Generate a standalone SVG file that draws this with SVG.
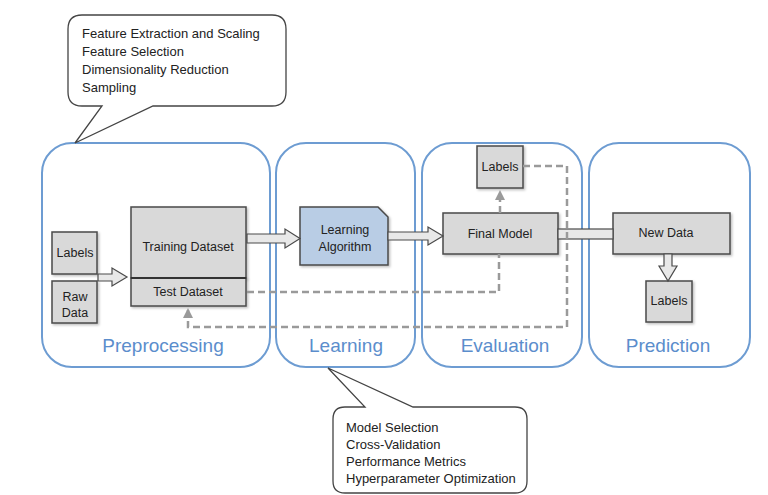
<svg xmlns="http://www.w3.org/2000/svg" width="768" height="495" viewBox="0 0 768 495">
<defs>
<style>
text{font-family:"Liberation Sans",Arial,sans-serif;fill:#222}
.stage{fill:#fff;stroke:#6d9cd2;stroke-width:2}
.stxt{font-size:19px;fill:#5b8dcc;text-anchor:middle}
.node{fill:#d9d9d9;stroke:#4a4a4a;stroke-width:1.5;filter:url(#sh)}
.ntxt{font-size:12.5px;text-anchor:middle}
.call{fill:#fff;stroke:#444;stroke-width:1.3}
.ctxt{font-size:13px}
.hollow{fill:#e8e8e8;stroke:#4a4a4a;stroke-width:1.2}
.dash{fill:none;stroke:#9a9a9a;stroke-width:2.5;stroke-dasharray:7,4}
</style>
<filter id="sh" x="-10%" y="-10%" width="130%" height="130%">
<feDropShadow dx="1.5" dy="1.5" stdDeviation="1" flood-color="#000" flood-opacity="0.25"/>
</filter>
<marker id="ga" viewBox="0 0 10 10" refX="9" refY="5" markerWidth="4" markerHeight="4" orient="auto" markerUnits="strokeWidth">
<path d="M0,0 L10,5 L0,10 Z" fill="#9a9a9a"/>
</marker>
</defs>

<g id="stages">
<g id="stage-preprocessing">
<rect class="stage" x="42" y="143" width="228" height="224" rx="30"/>
<text class="stxt" x="163" y="352">Preprocessing</text>
</g>
<g id="stage-learning">
<rect class="stage" x="276" y="143" width="139" height="224" rx="30"/>
<text class="stxt" x="346" y="352">Learning</text>
</g>
<g id="stage-evaluation">
<rect class="stage" x="422" y="143" width="160" height="224" rx="30"/>
<text class="stxt" x="505" y="352">Evaluation</text>
</g>
<g id="stage-prediction">
<rect class="stage" x="589" y="143" width="161" height="224" rx="30"/>
<text class="stxt" x="668" y="352">Prediction</text>
</g>
</g>

<g id="callout-preprocessing">
<path class="call" d="M82,15 H272 Q286,15 286,29 V92 Q286,106 272,106 H153 L75,143 L102,106 H82 Q68,106 68,92 V29 Q68,15 82,15 Z"/>
<text class="ctxt" x="82" y="38">Feature Extraction and Scaling</text>
<text class="ctxt" x="82" y="56">Feature Selection</text>
<text class="ctxt" x="82" y="74">Dimensionality Reduction</text>
<text class="ctxt" x="82" y="92">Sampling</text>
</g>

<g id="callout-learning">
<path class="call" d="M345,407 H365 L328,368 L413,407 H515 Q527,407 527,419 V481 Q527,493 515,493 H345 Q333,493 333,481 V419 Q333,407 345,407 Z"/>
<text class="ctxt" x="346" y="432">Model Selection</text>
<text class="ctxt" x="346" y="449">Cross-Validation</text>
<text class="ctxt" x="346" y="466">Performance Metrics</text>
<text class="ctxt" x="346" y="483">Hyperparameter Optimization</text>
</g>

<g id="node-labels-in">
<rect class="node" x="52" y="232" width="45" height="42"/>
<text class="ntxt" x="75" y="257">Labels</text>
</g>
<g id="node-raw-data">
<rect class="node" x="52" y="281" width="45" height="42"/>
<text class="ntxt" x="75" y="301">Raw</text>
<text class="ntxt" x="75" y="317">Data</text>
</g>
<g id="node-training-dataset">
<rect class="node" x="131" y="207" width="115" height="71"/>
<text class="ntxt" x="188" y="251">Training Dataset</text>
</g>
<g id="node-test-dataset">
<rect class="node" x="131" y="278" width="115" height="28"/>
<line x1="131" y1="278" x2="246" y2="278" stroke="#333" stroke-width="2.2"/>
<text class="ntxt" x="188" y="296">Test Dataset</text>
</g>
<g id="node-learning-algorithm">
<path d="M300,207 H378 L388,217 V265 H300 Z" fill="#b9cde5" stroke="#4a4a4a" stroke-width="1.5" filter="url(#sh)"/>
<text class="ntxt" x="345" y="234">Learning</text>
<text class="ntxt" x="345" y="251">Algorithm</text>
</g>
<g id="node-final-model">
<rect class="node" x="443" y="213" width="115" height="41"/>
<text class="ntxt" x="500" y="238">Final Model</text>
</g>
<g id="node-labels-eval">
<rect class="node" x="477" y="146" width="46" height="42"/>
<text class="ntxt" x="500" y="171">Labels</text>
</g>
<g id="node-new-data">
<rect class="node" x="613" y="213" width="117" height="41"/>
<text class="ntxt" x="666" y="237">New Data</text>
</g>
<g id="node-labels-pred">
<rect class="node" x="646" y="281" width="46" height="41"/>
<text class="ntxt" x="669" y="305">Labels</text>
</g>

<g id="connectors">
<polygon class="hollow" points="98,274 112,274 112,268 127,277 112,286 112,281 98,281"/>
<polygon class="hollow" points="247,234 285,234 285,229 300,238.5 285,248 285,243 247,243"/>
<polygon class="hollow" points="388,232 428,232 428,227 443,236 428,245 428,240 388,240"/>
<rect class="hollow" x="558" y="229" width="55" height="10"/>
<polygon class="hollow" points="664,254 672,254 672,266 677,266 668,281 659,266 664,266"/>
<path class="dash" d="M500,213 V191" marker-end="url(#ga)"/>
<path class="dash" d="M247,292 H499 V254"/>
<path class="dash" d="M523,166 H567 V327 H188 V309" marker-end="url(#ga)"/>
</g>
</svg>
